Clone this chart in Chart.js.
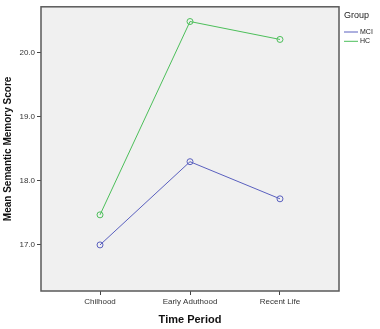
<!DOCTYPE html>
<html>
<head>
<meta charset="utf-8">
<script src="https://cdn.jsdelivr.net/npm/chart.js@4/dist/chart.umd.min.js"></script>
<style>
html,body{margin:0;padding:0;background:#fff;}
#wrap{width:380px;height:329px;position:relative;}
</style>
</head>
<body>
<div id="wrap"><canvas id="c" width="380" height="329"></canvas></div>
<script>
const categories = ["Chilhood", "Early Aduthood", "Recent Life"];
const mciValues = [17.0, 18.30, 17.72];
const hcValues = [17.47, 20.49, 20.21];
const yTicks = [17.0, 18.0, 19.0, 20.0];
const seriesNames = ["MCI", "HC"];
const legendTitle = "Group";

const BLUE = "#5a60bf";
const GREEN = "#4cbf5a";
const FONT = "'Liberation Sans', Arial, sans-serif";

function toPoints(vals){ return vals.map((v,i)=>({x:i,y:v})); }

const frame = {
  id:'frame',
  beforeDatasetsDraw(chart){
    const {ctx, chartArea:a} = chart;
    ctx.save();
    ctx.fillStyle = '#f0f0f0';
    ctx.fillRect(a.left, a.top, a.right-a.left, a.bottom-a.top);
    ctx.restore();
  },
  afterDraw(chart){
    const {ctx, chartArea:a} = chart;
    ctx.save();
    ctx.strokeStyle = '#5a5a5a';
    ctx.lineWidth = 1.5;
    ctx.strokeRect(a.left, a.top, a.right-a.left, a.bottom-a.top);
    // legend
    ctx.fillStyle = '#222';
    ctx.font = "9px " + FONT;
    ctx.textBaseline = 'middle';
    ctx.textAlign = 'left';
    ctx.fillText(legendTitle, 344, 16);
    ctx.font = "7px " + FONT;
    chart.data.datasets.forEach((ds, i) => {
      const y = 32 + i*9.3;
      ctx.strokeStyle = ds.borderColor;
      ctx.lineWidth = 1;
      ctx.beginPath();
      ctx.moveTo(344, y); ctx.lineTo(358, y);
      ctx.stroke();
      ctx.fillStyle = '#222';
      ctx.fillText(ds.label, 360, y);
    });
    ctx.restore();
  }
};

new Chart(document.getElementById('c'), {
  type: 'line',
  data: {
    datasets: [
      {label: seriesNames[0], data: toPoints(mciValues), borderColor: BLUE, backgroundColor: 'rgba(0,0,0,0)', borderWidth: 1, pointRadius: 3, pointBorderWidth: 1, pointBackgroundColor: 'rgba(0,0,0,0)', pointBorderColor: BLUE},
      {label: seriesNames[1], data: toPoints(hcValues), borderColor: GREEN, backgroundColor: 'rgba(0,0,0,0)', borderWidth: 1, pointRadius: 3, pointBorderWidth: 1, pointBackgroundColor: 'rgba(0,0,0,0)', pointBorderColor: GREEN}
    ]
  },
  options: {
    responsive: false,
    animation: false,
    layout: {padding: {top: 6, right: 41, left: 0, bottom: 0}},
    plugins: {legend: {display: false}, tooltip: {enabled: false}},
    scales: {
      x: {
        type: 'linear',
        min: -0.656, max: 2.656,
        afterFit(s){ s.height = 38; },
        afterBuildTicks(s){ s.ticks = categories.map((c,i)=>({value:i})); },
        ticks: {
          callback: (v) => categories[v],
          font: {family: FONT, size: 8},
          color: '#333',
          padding: 2,
          maxRotation: 0,
          autoSkip: false
        },
        grid: {drawOnChartArea: false, tickLength: 4, color: '#444', tickWidth: 1},
        border: {display: false},
        title: {display: true, text: 'Time Period', font: {family: FONT, size: 11, weight: 'bold'}, color: '#111', padding: {top: 0, bottom: 2}}
      },
      y: {
        min: 16.28, max: 20.72,
        afterFit(s){ s.width = 41; },
        afterBuildTicks(s){ s.ticks = yTicks.map(v=>({value:v})); },
        ticks: {
          callback: (v) => v.toFixed(1),
          font: {family: FONT, size: 8},
          color: '#333',
          padding: 2
        },
        grid: {drawOnChartArea: false, tickLength: 4, color: '#444', tickWidth: 1},
        border: {display: false},
        title: {display: true, text: 'Mean Semantic Memory Score', font: {family: FONT, size: 10, weight: 'bold'}, color: '#111', padding: {top: 2, bottom: 0}}
      }
    }
  },
  plugins: [frame]
});
</script>
</body>
</html>
